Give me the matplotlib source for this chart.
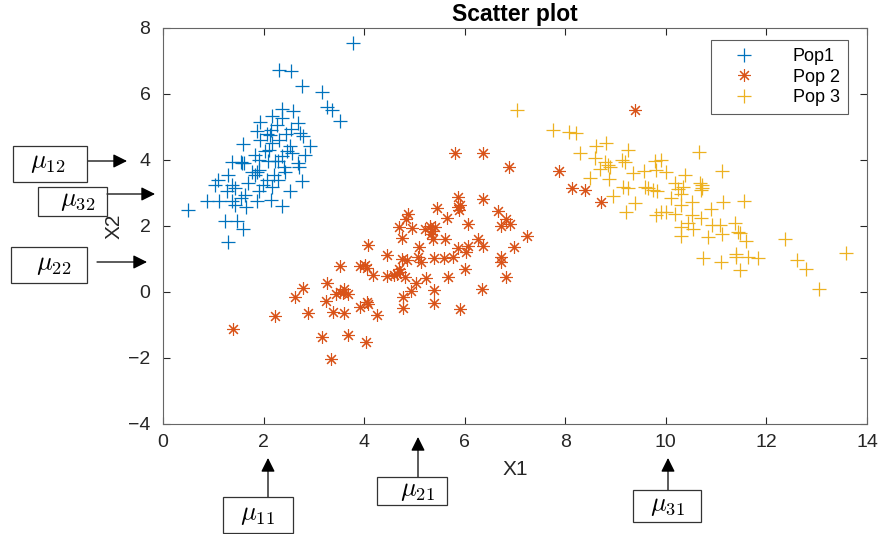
import matplotlib
matplotlib.use("Agg")
import matplotlib.pyplot as plt
from matplotlib.patches import Rectangle, FancyArrowPatch

plt.rcParams['font.family'] = ['Liberation Sans', 'DejaVu Sans']
plt.rcParams['mathtext.fontset'] = 'cm'

# ---------------- data ----------------
pop1_x = [3.77, 2.31, 2.54, 2.77, 3.17, 3.27, 3.37, 3.52, 2.36, 2.58, 2.36, 2.16, 1.93, 2.26, 2.69,
          1.86, 2.06, 2.13, 2.45, 2.72, 2.78, 1.93, 2.16, 1.60, 2.52, 2.92, 2.03, 2.46, 2.56, 1.82,
          2.82, 2.36, 1.37, 1.56, 1.61, 1.90, 2.09, 2.23, 2.29, 2.69, 2.71, 1.76, 1.86, 1.83, 2.43,
          1.29, 1.10, 2.06, 2.29, 2.76, 1.03, 1.37, 1.43, 1.99, 2.16, 1.27, 1.90, 2.52, 1.63, 1.56,
          0.87, 1.12, 1.37, 1.86, 2.15, 1.43, 1.66, 2.36, 0.50, 1.23, 1.48, 1.60, 1.30,
          1.58, 1.90, 2.10, 2.30, 2.40, 2.20, 1.70, 2.55, 2.15]
pop1_y = [7.55, 6.74, 6.71, 6.25, 6.05, 5.60, 5.52, 5.17, 5.55, 5.48, 5.27, 5.32, 5.14, 5.07, 5.12,
          4.87, 4.79, 4.77, 4.79, 4.82, 4.72, 4.62, 4.52, 4.47, 4.41, 4.41, 4.28, 4.26, 4.21, 4.14,
          4.14, 4.11, 3.94, 3.94, 3.91, 4.01, 3.96, 3.96, 3.98, 3.91, 3.78, 3.64, 3.64, 3.56, 3.64,
          3.56, 3.40, 3.40, 3.40, 3.35, 3.25, 3.25, 3.15, 3.25, 3.17, 3.05, 3.05, 3.07, 2.95, 2.85,
          2.75, 2.77, 2.75, 2.75, 2.80, 2.65, 2.58, 2.60, 2.48, 2.14, 2.14, 1.91, 1.51,
          3.92, 3.70, 4.30, 4.60, 3.80, 3.55, 3.30, 4.95, 4.90]

pop2_x = [5.81, 6.36, 6.88, 5.87, 6.36, 5.86, 5.88, 5.45, 6.67, 4.88, 4.83, 5.64, 6.82, 6.90, 6.07,
          6.72, 4.69, 4.96, 5.21, 5.41, 5.32, 5.37, 5.61, 4.75, 7.23, 6.26, 6.37, 6.07, 5.87, 6.99,
          5.10, 4.07, 6.03, 4.45, 5.08, 4.75, 4.86, 5.13, 5.39, 5.59, 5.77, 6.73, 6.73, 3.52, 3.92,
          4.02, 4.05, 6.00, 4.18, 4.45, 4.60, 4.71, 4.81, 5.24, 5.66, 6.82, 3.27, 5.04, 2.79, 3.51,
          3.58, 3.68, 4.94, 5.39, 6.34, 2.62, 4.78, 3.24, 4.05, 4.08, 3.92, 5.39, 4.77, 5.90, 2.23,
          2.89, 3.39, 3.60, 4.25, 1.39, 3.17, 3.68, 4.03, 3.34,
          9.38, 7.88, 8.14, 8.39, 8.71,
          4.70, 4.65, 3.60, 3.45, 5.30, 5.35, 5.90]
pop2_y = [4.22, 4.22, 3.80, 2.87, 2.81, 2.58, 2.48, 2.55, 2.46, 2.36, 2.20, 2.23, 2.20, 2.06, 2.06,
          2.00, 1.96, 1.93, 1.90, 1.96, 1.76, 1.60, 1.60, 1.65, 1.71, 1.62, 1.39, 1.39, 1.34, 1.37,
          1.37, 1.42, 1.20, 1.12, 1.07, 0.99, 0.97, 0.92, 1.02, 1.02, 1.05, 1.07, 0.92, 0.79, 0.79,
          0.82, 0.72, 0.69, 0.52, 0.48, 0.53, 0.62, 0.46, 0.41, 0.46, 0.46, 0.28, 0.28, 0.13, 0.01,
          -0.04, -0.06, 0.04, 0.06, 0.08, -0.14, -0.14, -0.27, -0.29, -0.36, -0.44, -0.32, -0.48, -0.52, -0.73,
          -0.65, -0.60, -0.65, -0.70, -1.12, -1.35, -1.30, -1.51, -2.04,
          5.52, 3.67, 3.14, 3.09, 2.74,
          0.70, 0.55, 0.10, -0.05, 2.00, 1.85, 2.65]

pop3_x = [7.75, 8.08, 8.22, 8.61, 8.81, 8.29, 9.25, 10.66, 8.59, 8.79, 9.12, 9.18, 9.78, 9.91, 8.89,
          8.69, 9.35, 9.57, 9.81, 10.01, 10.38, 11.11, 8.50, 8.87, 9.15, 9.25, 9.58, 9.75, 9.83, 10.18,
          10.25, 10.34, 10.71, 10.70, 8.94, 10.11, 10.31, 9.38, 10.51, 11.13, 11.56, 9.20, 9.80, 9.91, 10.01,
          10.18, 10.31, 10.51, 10.89, 10.69, 10.91, 11.07, 11.37, 11.44, 10.31, 10.31, 10.54, 10.84, 11.11, 11.47,
          11.60, 12.37, 11.40, 11.40, 11.64, 11.84, 10.74, 11.09, 11.48, 12.60, 12.78, 13.59, 13.04, 7.04,
          10.68, 10.72, 9.65, 8.85, 10.45]
pop3_y = [4.91, 4.84, 4.81, 4.42, 4.51, 4.22, 4.30, 4.25, 4.07, 3.95, 4.00, 3.95, 3.98, 4.00, 3.80,
          3.72, 3.60, 3.67, 3.70, 3.65, 3.55, 3.67, 3.45, 3.42, 3.19, 3.14, 3.19, 3.09, 3.06, 3.29,
          3.11, 3.19, 3.24, 3.09, 2.91, 2.84, 2.97, 2.71, 2.74, 2.72, 2.77, 2.42, 2.33, 2.42, 2.43,
          2.36, 2.64, 2.33, 2.52, 2.23, 2.03, 2.03, 2.10, 1.83, 1.96, 1.70, 1.90, 1.68, 1.76, 1.78,
          1.55, 1.60, 1.15, 1.07, 1.07, 1.02, 1.02, 0.92, 0.67, 0.97, 0.69, 1.17, 0.08, 5.52,
          3.30, 3.15, 3.15, 3.85, 2.10]

series_labels = ['Pop1', 'Pop 2', 'Pop 3']
x_ticks = [0, 2, 4, 6, 8, 10, 12, 14]
y_ticks = [-4, -2, 0, 2, 4, 6, 8]
mu_labels = [r'$\mu_{12}$', r'$\mu_{32}$', r'$\mu_{22}$', r'$\mu_{11}$', r'$\mu_{21}$', r'$\mu_{31}$']

# ---------------- figure ----------------
W, H = 881, 534
fig = plt.figure(figsize=(W / 100, H / 100), dpi=100)
ax = fig.add_axes([163 / W, 1 - 424 / H, (867 - 163) / W, (424 - 28) / H])

c1, c2, c3 = '#0072BD', '#D95319', '#EDB120'
ax.plot(pop1_x, pop1_y, linestyle='none', marker='+', ms=10, mew=0.9, color=c1, label=series_labels[0])
ax.plot(pop2_x, pop2_y, linestyle='none', marker=(8, 2, 0), ms=9, mew=0.8, color=c2, label=series_labels[1])
ax.plot(pop3_x, pop3_y, linestyle='none', marker='+', ms=10, mew=0.9, color=c3, label=series_labels[2])

ax.set_xlim(0, 14)
ax.set_ylim(-4, 8)
ax.set_xticks(x_ticks)
ax.set_yticks(y_ticks)
axcol = '#262626'
ax.tick_params(direction='in', length=5, width=0.8, top=True, right=True,
               labelsize=14, colors=axcol, labelcolor=axcol)
ax.tick_params(axis='y', pad=9)
ax.tick_params(axis='x', pad=7)
for s in ax.spines.values():
    s.set_color('#666666')
    s.set_linewidth(0.8)
ax.set_title('Scatter plot', fontsize=16.5, fontweight='bold', pad=5, color='black')
ax.set_xlabel('X1', fontsize=15, color=axcol, labelpad=7)
ax.set_ylabel('X2', fontsize=15, color=axcol, labelpad=3)

leg = ax.legend(loc='upper right', bbox_to_anchor=(848 / W, 1 - 40 / H),
                bbox_transform=fig.transFigure, borderaxespad=0, fontsize=13, frameon=True,
                fancybox=False, edgecolor='#333333', handlelength=2.8, handletextpad=1.3,
                borderpad=0.45, labelspacing=0.2)
leg.get_frame().set_linewidth(0.8)

# ---------------- annotations (pixel layout) ----------------
def fx(px):
    return px / W

def fy(py):
    return 1 - py / H

boxes = [(13, 146, 87, 182), (38, 187, 107, 216), (11, 247, 87, 283),
         (223, 497, 293, 533), (377, 477, 447, 505), (633, 490, 701, 522)]
text_centers = [(48, 163), (78, 201), (54, 265), (257, 515), (417, 491), (667, 506)]
arrows = [((88, 161), (127, 161)), ((107, 194), (155, 194)), ((97, 262), (147, 262)),
          ((268, 497), (268, 458)), ((418, 477), (418, 437)), ((668, 490), (668, 458))]

for lab, (x0, y0, x1, y1), (tx, ty) in zip(mu_labels, boxes, text_centers):
    fig.patches.append(Rectangle((fx(x0), fy(y1)), fx(x1) - fx(x0), fy(y0) - fy(y1),
                                 transform=fig.transFigure, fill=False, edgecolor='#333333', lw=0.9))
    fig.text(fx(tx), fy(ty), lab, ha='center', va='center', fontsize=19, color='black')

for (bx, by), (tx, ty) in arrows:
    fig.add_artist(FancyArrowPatch(
        (fx(bx), fy(by)), (fx(tx), fy(ty)), transform=fig.transFigure,
        arrowstyle='-|>,head_length=0.6,head_width=0.3', mutation_scale=14,
        color='black', lw=0.9, shrinkA=0, shrinkB=0))

fig.savefig('out.png', dpi=100)
